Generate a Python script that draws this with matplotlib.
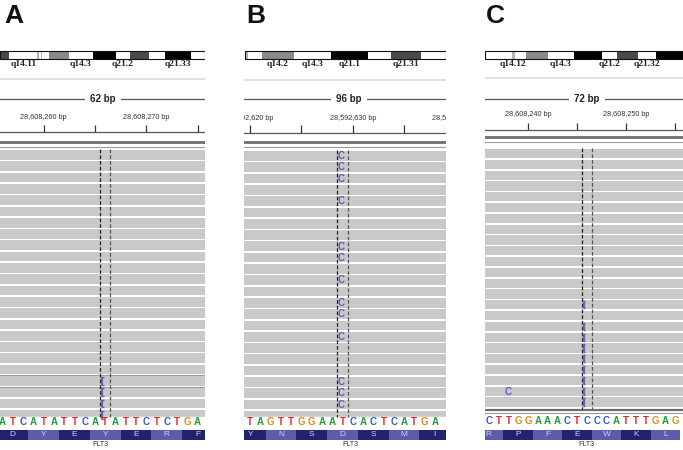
import numpy as np
import matplotlib
matplotlib.use("Agg")
import matplotlib.pyplot as plt
import matplotlib.transforms as mtransforms
from matplotlib.patches import Rectangle

plt.rcParams['font.family'] = ['Liberation Sans', 'DejaVu Sans']

W, H = 683, 450

# ---- data ----
panel_letters = ["A", "B", "C"]
window_bp = [62, 96, 72]

# visible genomic window of each panel (bp)
view_start = [28608255.75, 28592619.4, 28608235.62]
view_end = [28608275.73, 28592639.09, 28608255.78]

# reference sequence shown under the reads
ref_seq = ["ATCATATTCATATTCTCTGA", "TAGTTGGAATCACTCATGA", "CTTGGAAACTCCCATTTGAG"]
seq_start = [28608256, 28592620, 28608236]

# FLT3 translation (minus strand), codon frame relative to first base
amino = [["D", "Y", "E", "Y", "E", "R", "F"],
         ["Y", "N", "S", "D", "S", "M", "I"],
         ["R", "P", "F", "E", "W", "K", "L"]]
codon_frame = [0, -1, -1]
first_shade = [0, 0, 1]

# reads: number of rows, which rows carry the variant
n_reads = [24, 24, 24]
variant_base = [10, 9, 10]          # index in ref_seq of centred base
variant_kind = ["ins", "mm", "ins"]
variant_rows = [[20, 21, 22, 23],
                [0, 1, 2, 4, 8, 9, 11, 13, 14, 16, 20, 21, 22],
                [14, 16, 17, 18, 19, 20, 21, 22, 23]]
mismatch_base = "C"
# a lone mismatch in panel C: (row, base index, base)
extra_mm = [[], [], [(22, 2, "C")]]

# cytobands of the visible ideogram strip: (start, end, stain, label)
bands = [
    [(0, 9.3, "gpos75", ""), (9.3, 37.3, "gneg", "q14.11"), (37.3, 39.3, "gpos25", ""),
     (39.3, 41.0, "gneg", ""), (41.0, 42.0, "gpos25", ""), (42.0, 49.3, "gneg", ""),
     (49.3, 68.7, "gpos50", ""), (68.7, 92.7, "gneg", "q14.3"), (92.7, 116, "gpos100", ""),
     (116, 130, "gneg", "q21.2"), (130, 149.3, "gpos75", ""), (149.3, 165, "gneg", ""),
     (165, 191, "gpos100", "q21.33"), (191, 204.5, "gneg", "")],
    [(1, 4, "gpos25", ""), (4, 18, "gneg", ""), (18, 50, "gpos50", "q14.2"),
     (50, 87, "gneg", "q14.3"), (87, 124, "gpos100", "q21.1"), (124, 147, "gneg", ""),
     (147, 177, "gpos75", "q21.31"), (177, 201.5, "gneg", "")],
    [(0, 26.7, "gneg", ""), (26.7, 30, "gpos25", "q14.12"), (30, 40.7, "gneg", ""),
     (40.7, 62.7, "gpos50", ""), (62.7, 89.3, "gneg", "q14.3"), (89.3, 116.7, "gpos100", ""),
     (116.7, 131.7, "gneg", "q21.2"), (131.7, 152.7, "gpos75", ""),
     (152.7, 170.7, "gneg", "q21.32"), (170.7, 198, "gpos100", "")],
]

# ---- layout / style ----
panel_px = [(0, 205), (244, 202), (485, 198)]
letter_x = [4, 246, 486]
bp_label_x = [0.503, 0.52, 0.515]
gene_label_x = [0.49, 0.525, 0.51]
read_top = [150, 151, 149]
read_pitch = [11.3, 11.3, 10.8]
seq_y = [422, 421.7, 420.7]
tick_y = [(125, 132), (125, 132.5), (123, 129.5)]
ticklab_y = [117.7, 118.3, 115]
bp_y = [99.3, 99.3, 98.7]
gray_y = [79.3, 80, 78]
top_lines = [(142, 146.5), (142.3, 146.7), (137.3, 142.3)]
reads_bottom = [417, 417, 408.5]

stain_col = {"gneg": "white", "gpos25": "#b4b4b4", "gpos50": "#8a8a8a",
             "gpos75": "#4a4a4a", "gpos100": "black"}
base_col = {"A": "#1f9e3a", "C": "#3558c8", "G": "#e08a1a", "T": "#e4262c"}
amino_col = ["#222270", "#5c5cab"]
read_col = "#c9c9c9"
ins_col = "#6e5cb8"
mm_col = "#5a5ab8"

fig = plt.figure(figsize=(W / 100, H / 100), dpi=100)

for p in range(3):
    left, width = panel_px[p]
    ax = fig.add_axes([left / W, 0, width / W, 1])
    ax.set_xlim(view_start[p], view_end[p])
    ax.set_ylim(H, 0)
    ax.axis("off")
    trans = mtransforms.blended_transform_factory(ax.transAxes, ax.transData)

    # panel letter
    fig.text(letter_x[p] / W, 1 - 23 / H, panel_letters[p], fontsize=19,
             fontweight="bold", ha="left", va="baseline", color="#111")

    # ideogram
    for (b0, b1, stain, name) in bands[p]:
        ax.add_patch(Rectangle((b0 / width, 51.3), (b1 - b0) / width, 8, transform=trans,
                               facecolor=stain_col[stain], edgecolor="none", zorder=2))
        if name:
            ax.text((b0 + b1) / 2 / width, 64.5, name, transform=trans, ha="center",
                    va="center", fontsize=6.8, fontweight="bold",
                    family=["Liberation Serif", "DejaVu Serif"], color="#222")
    s0 = bands[p][0][0] / width
    s1 = bands[p][-1][1] / width
    ax.add_patch(Rectangle((s0, 51.3), s1 - s0, 8, transform=trans, facecolor="none",
                           edgecolor="#111", lw=0.8, zorder=3))

    ax.axhline(gray_y[p], color="#dedede", lw=1.3)

    # window size
    ax.axhline(bp_y[p], color="#555", lw=0.9)
    ax.text(bp_label_x[p], bp_y[p], f"{window_bp[p]} bp", transform=trans,
            ha="center", va="center", fontsize=7, fontweight="bold", color="#222",
            bbox=dict(boxstyle="square,pad=0.55", fc="white", ec="none"))

    # ruler
    t0 = np.ceil(view_start[p] / 5) * 5
    ticks = np.arange(t0, view_end[p], 5)
    ax.vlines(ticks, tick_y[p][0], tick_y[p][1], color="#333", lw=0.9)
    ax.axhline(tick_y[p][1], color="#555", lw=0.9)
    lab0 = np.floor(view_start[p] / 10) * 10
    for t in np.arange(lab0, view_end[p] + 10, 10):
        if view_start[p] - 2.5 <= t <= view_end[p] + 2.5:
            ax.text(t, ticklab_y[p], f"{int(t):,} bp", ha="center", va="center",
                    fontsize=5.2, color="#333", clip_on=True)

    ax.axhline(top_lines[p][0], color="#6e6e6e", lw=2.0)
    ax.axhline(top_lines[p][1], color="#9a9a9a", lw=0.8)

    # reads
    pitch = read_pitch[p]
    rh = pitch - 1.6
    tops = read_top[p] + np.arange(n_reads[p]) * pitch
    ax.barh(tops + rh / 2, view_end[p] - view_start[p], left=view_start[p], height=rh,
            color=read_col, zorder=1)
    if p == 0:
        for r in (20, 21):
            ax.axhline(tops[r] - 0.8, color="#9c9c9c", lw=0.8, zorder=1.5)
    ax.axhspan(reads_bottom[p], H, color="white", zorder=2)
    if p == 2:
        ax.axhline(410, color="#6e6e6e", lw=1.6, zorder=3)
        ax.axhline(412.7, color="#9a9a9a", lw=0.8, zorder=3)

    # centre line
    c = seq_start[p] + variant_base[p]
    ax.vlines([c - 0.5, c + 0.5], read_top[p] - 1, reads_bottom[p],
              colors=["#222", "#555"], linestyles=[(0, (3, 1.6))], lw=0.9, zorder=4)

    for r in variant_rows[p]:
        y0 = tops[r] + 1
        y1 = tops[r] + rh - 1
        if variant_kind[p] == "ins":
            xi = c - 0.5 + 0.2
            ax.vlines(xi, y0, y1, color=ins_col, lw=1.6, zorder=5)
            ax.hlines([y0, y1], xi - 0.15, xi + 0.15, color=ins_col, lw=1.0, zorder=5)
        else:
            ax.text(c - 0.15, tops[r] + rh / 2 + 0.3, mismatch_base, ha="center",
                    va="center", fontsize=7, fontweight="bold", color=mm_col, zorder=5)
    for (r, bi, b) in extra_mm[p]:
        ax.text(seq_start[p] + bi, tops[r] + rh / 2 + 0.3, b, ha="center", va="center",
                fontsize=7, fontweight="bold", color=mm_col, zorder=5)

    # reference sequence
    for i, b in enumerate(ref_seq[p]):
        ax.text(seq_start[p] + i, seq_y[p], b, ha="center", va="center", fontsize=7,
                fontweight="bold", color=base_col[b], zorder=6)

    # amino acids
    for k, aa in enumerate(amino[p]):
        x0 = seq_start[p] + codon_frame[p] + 3 * k - 0.5
        shade = amino_col[(k + first_shade[p]) % 2]
        ax.add_patch(Rectangle((x0, 429.5), 3, 10.5, facecolor=shade, edgecolor="none",
                               zorder=6))
        ax.text(x0 + 1.5, 434.8, aa, ha="center", va="center", fontsize=6,
                color="#d4d4ea", zorder=7, clip_on=True)
    ax.text(gene_label_x[p], 444.8, "FLT3", transform=trans, ha="center", va="center",
            fontsize=5, color="#333")

fig.savefig("out.png", dpi=100)
